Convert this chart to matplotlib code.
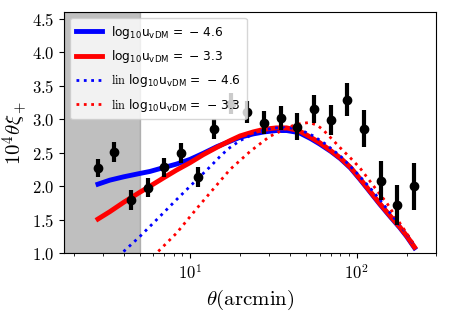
import matplotlib
matplotlib.use('Agg')
import matplotlib.pyplot as plt
import numpy as np

plt.rcParams['mathtext.fontset'] = 'cm'
plt.rcParams['font.family'] = 'cmr10'
plt.rcParams['axes.formatter.use_mathtext'] = True

# measured xi_+ (theta in arcmin)
theta_obs = [2.79, 3.51, 4.42, 5.56, 7.0, 8.81, 11.1, 14.0, 17.6, 22.1,
             27.9, 35.1, 44.2, 55.6, 70.0, 88.1, 111.0, 140.0, 176.0, 222.0]
xi_obs = [2.27, 2.51, 1.79, 1.98, 2.28, 2.50, 2.14, 2.85, 3.23, 3.11,
          2.95, 3.02, 2.89, 3.15, 2.99, 3.29, 2.86, 2.08, 1.72, 2.00]
xi_err = [0.14, 0.145, 0.15, 0.146, 0.14, 0.15, 0.145, 0.15, 0.16, 0.16,
          0.167, 0.18, 0.2, 0.21, 0.22, 0.25, 0.27, 0.29, 0.3, 0.35]

# model curves
theta_mod = [2.8, 3.3, 4, 5, 5.75, 7, 8.3, 10, 12, 14.5, 17.4, 20, 24, 28, 33,
             38, 45, 53, 60, 70, 80, 92, 105, 120, 138, 160, 182, 200, 223]
xi_blue = [2.03, 2.09, 2.14, 2.19, 2.22, 2.28, 2.33, 2.40, 2.49, 2.59, 2.67,
           2.73, 2.78, 2.81, 2.83, 2.83, 2.80, 2.71, 2.63, 2.52, 2.41, 2.27,
           2.10, 1.92, 1.73, 1.54, 1.38, 1.25, 1.08]
xi_red = [1.51, 1.62, 1.76, 1.91, 2.00, 2.13, 2.24, 2.35, 2.47, 2.58, 2.68,
          2.75, 2.81, 2.85, 2.87, 2.87, 2.83, 2.73, 2.65, 2.53, 2.42, 2.28,
          2.11, 1.93, 1.74, 1.55, 1.39, 1.26, 1.09]

theta_lin_b = [3.7, 5, 6.6, 8.3, 10.5, 13.2, 15.1, 17, 20, 26, 32, 40, 48, 55,
               65, 80, 100, 120, 140, 160, 182, 200, 223]
xi_lin_b = [0.95, 1.25, 1.55, 1.80, 2.05, 2.29, 2.44, 2.56, 2.68, 2.82, 2.87,
            2.87, 2.82, 2.75, 2.63, 2.45, 2.20, 1.98, 1.78, 1.59, 1.42, 1.29, 1.11]
theta_lin_r = [6.0, 8.3, 11, 14.5, 17.4, 23, 30, 40, 45, 52, 58, 63, 72, 80,
               92, 105, 120, 138, 152, 170, 190, 210, 223]
xi_lin_r = [0.95, 1.30, 1.67, 2.02, 2.25, 2.52, 2.74, 2.89, 2.93, 2.95, 2.91,
            2.84, 2.69, 2.57, 2.42, 2.27, 2.08, 1.88, 1.75, 1.56, 1.38, 1.22, 1.12]

labels = [r'$\mathregular{log_{10}u_{vDM}\,=\,-\,4.6}$',
          r'$\mathregular{log_{10}u_{vDM}\,=\,-\,3.3}$',
          r'$\rm lin$ $\mathregular{log_{10}u_{vDM}\,=\,-\,4.6}$',
          r'$\rm lin$ $\mathregular{log_{10}u_{vDM}\,=\,-\,3.3}$']

fig = plt.figure(figsize=(4.49, 3.13), dpi=100)
ax = fig.add_axes([0.1425, 0.191, 0.8285, 0.771])

xmin, xmax = 1.75, 300
ax.axvspan(xmin, 5, color='gray', alpha=0.5)

ax.plot(theta_mod, xi_blue, color='blue', lw=3.5, label=labels[0])
ax.plot(theta_mod, xi_red, color='red', lw=3.5, label=labels[1])
ax.plot(theta_lin_b, xi_lin_b, color='blue', ls=':', lw=2, label=labels[2])
ax.plot(theta_lin_r, xi_lin_r, color='red', ls=':', lw=2, label=labels[3])
ax.errorbar(theta_obs, xi_obs, yerr=xi_err, fmt='o', color='k', ms=6,
            elinewidth=3, capsize=0)

ax.set_xscale('log')
ax.set_xlim(xmin, xmax)
ax.set_ylim(1.0, 4.6)
ax.set_yticks([1.0, 1.5, 2.0, 2.5, 3.0, 3.5, 4.0, 4.5])
ax.tick_params(labelsize=12)
ax.set_xlabel(r'$\theta(\rm arcmin)$', fontsize=15)
ax.set_ylabel(r'$10^4\theta\xi_+$', fontsize=15, labelpad=1)
ax.legend(loc='upper left', prop={'family': 'DejaVu Sans', 'size': 8.8},
          handlelength=2.2, handletextpad=0.7, labelspacing=0.6, borderpad=0.45)

plt.savefig('out.png', dpi=100)
